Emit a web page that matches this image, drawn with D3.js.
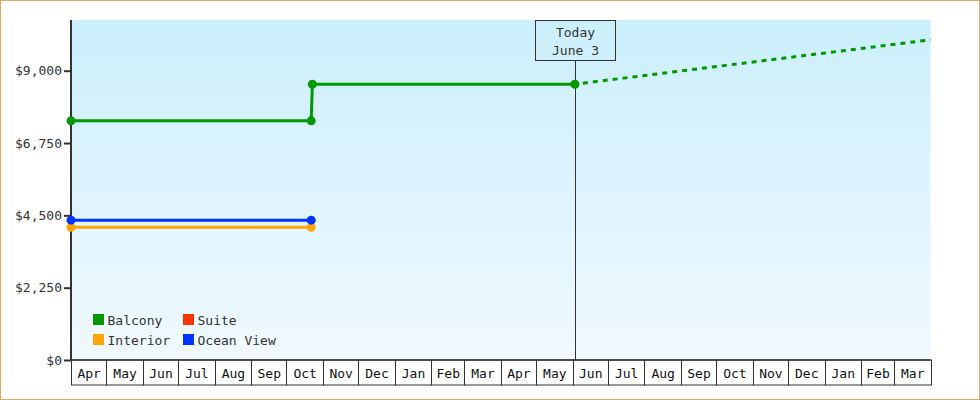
<!DOCTYPE html>
<html>
<head>
<meta charset="utf-8">
<script src="https://cdn.jsdelivr.net/npm/d3@7"></script>
<style>
  body { margin: 0; background: #fff; }
  svg { display: block; font-family: "DejaVu Sans Mono", monospace; font-size: 13px; }
</style>
</head>
<body>
<svg id="chart" width="980" height="400"></svg>
<script>
// prices per cabin type
var balconyDates = ["2021-04-01", "2021-10-22", "2021-10-23", "2022-06-03"];
var balconyPrices = [7440, 7440, 8580, 8580];
var forecastDates = ["2022-06-03", "2023-04-01"];
var forecastPrices = [8580, 9960];
var interiorDates = ["2021-04-01", "2021-10-22"];
var interiorPrices = [4130, 4130];
var oceanDates = ["2021-04-01", "2021-10-22"];
var oceanPrices = [4350, 4350];
var yTicks = [0, 2250, 4500, 6750, 9000];
var legendNames = ["Balcony", "Suite", "Interior", "Ocean View"];
var legendColors = ["#009900", "#ff3300", "#ffa500", "#0033ff"];
var todayDate = "2022-06-03";
var todayLabel = ["Today", "June 3"];
var startDate = "2021-04-01", endDate = "2023-04-01";

var parse = d3.timeParse("%Y-%m-%d");
function pairs(dates, prices) {
  return dates.map(function (d, i) { return {date: parse(d), value: prices[i]}; });
}

var svg = d3.select("#chart");
var plotLeft = 71, plotRight = 930.5, plotTop = 20, plotBottom = 360;

var x = d3.scaleTime().domain([parse(startDate), parse(endDate)]).range([plotLeft, plotRight]);
var y = d3.scaleLinear().domain([0, 10577]).range([plotBottom, plotTop]);

// frame
svg.append("rect")
  .attr("x", 0.5).attr("y", 0.5).attr("width", 979).attr("height", 399)
  .attr("fill", "#fff").attr("stroke", "#eaa864");

var grad = svg.append("defs").append("linearGradient")
  .attr("id", "bg").attr("x1", 0).attr("y1", 0).attr("x2", 0).attr("y2", 1);
grad.append("stop").attr("offset", "0%").attr("stop-color", "#cbeffc");
grad.append("stop").attr("offset", "100%").attr("stop-color", "#f1f9ff");

svg.append("rect")
  .attr("x", plotLeft).attr("y", plotTop)
  .attr("width", plotRight - plotLeft).attr("height", plotBottom - plotTop)
  .attr("fill", "url(#bg)");

// month cells along the bottom
var months = d3.timeMonth.range(parse(startDate), parse(endDate));
var cells = svg.append("g").selectAll("g")
  .data(months)
  .enter().append("g");

cells.append("rect")
  .attr("x", function (d) { return Math.round(x(d)) + 0.5; })
  .attr("y", plotBottom)
  .attr("width", function (d) { return Math.round(x(d3.timeMonth.offset(d, 1))) - Math.round(x(d)); })
  .attr("height", 25)
  .attr("fill", "#fff")
  .attr("stroke", "#333");

cells.append("text")
  .attr("x", function (d) { return (x(d) + x(d3.timeMonth.offset(d, 1))) / 2 + 0.5; })
  .attr("y", plotBottom + 18)
  .attr("text-anchor", "middle")
  .attr("fill", "#111")
  .text(d3.timeFormat("%b"));

svg.append("line")
  .attr("x1", plotLeft).attr("x2", plotRight).attr("y1", plotBottom).attr("y2", plotBottom)
  .attr("stroke", "#333").attr("stroke-width", 1.5);

// y axis
var yAxis = svg.append("g")
  .attr("transform", "translate(" + plotLeft + ",0)")
  .call(d3.axisLeft(y).tickValues(yTicks).tickSize(7).tickPadding(2)
    .tickFormat(function (d) { return "$" + d3.format(",")(d); }));
yAxis.select(".domain").remove();
yAxis.selectAll(".tick line").attr("stroke", "#333").attr("stroke-width", 2);
yAxis.selectAll(".tick text")
  .attr("fill", "#333")
  .style("font-family", "DejaVu Sans Mono, monospace")
  .style("font-size", "13px");

svg.append("line")
  .attr("x1", plotLeft).attr("x2", plotLeft).attr("y1", plotTop).attr("y2", plotBottom + 1)
  .attr("stroke", "#333").attr("stroke-width", 2);

// today marker
var tx = Math.round(x(parse(todayDate))) + 0.5;
svg.append("line")
  .attr("x1", tx).attr("x2", tx).attr("y1", 60.5).attr("y2", plotBottom)
  .attr("stroke", "#333");
svg.append("rect")
  .attr("x", tx - 40).attr("y", 20.5).attr("width", 80).attr("height", 40)
  .attr("fill", "none").attr("stroke", "#333");
svg.selectAll(".today")
  .data(todayLabel)
  .enter().append("text")
  .attr("class", "today")
  .attr("x", tx)
  .attr("y", function (d, i) { return 37 + i * 18; })
  .attr("text-anchor", "middle")
  .attr("fill", "#333")
  .text(function (d) { return d; });

// lines
var line = d3.line()
  .x(function (d) { return x(d.date); })
  .y(function (d) { return y(d.value); });

var series = [
  {data: pairs(interiorDates, interiorPrices), color: legendColors[2]},
  {data: pairs(oceanDates, oceanPrices), color: legendColors[3]},
  {data: pairs(balconyDates, balconyPrices), color: legendColors[0]}
];

svg.append("path")
  .datum(pairs(forecastDates, forecastPrices))
  .attr("d", line)
  .attr("fill", "none")
  .attr("stroke", legendColors[0])
  .attr("stroke-width", 3)
  .attr("stroke-dasharray", "5,5")
  .attr("stroke-dashoffset", -8);

series.forEach(function (s) {
  svg.append("path")
    .datum(s.data)
    .attr("d", line)
    .attr("fill", "none")
    .attr("stroke", s.color)
    .attr("stroke-width", 3);

  svg.append("g").selectAll("circle")
    .data(s.data)
    .enter().append("circle")
    .attr("cx", function (d) { return x(d.date); })
    .attr("cy", function (d) { return y(d.value); })
    .attr("r", 4.5)
    .attr("fill", s.color);
});

// legend
var legend = svg.append("g").selectAll("g")
  .data(legendNames)
  .enter().append("g")
  .attr("transform", function (d, i) {
    return "translate(" + (93 + (i % 2) * 90) + "," + (314 + Math.floor(i / 2) * 20) + ")";
  });
legend.append("rect")
  .attr("width", 11).attr("height", 11)
  .attr("fill", function (d, i) { return legendColors[i]; });
legend.append("text")
  .attr("x", 14.5).attr("y", 11)
  .attr("fill", "#333")
  .text(function (d) { return d; });
</script>
</body>
</html>
